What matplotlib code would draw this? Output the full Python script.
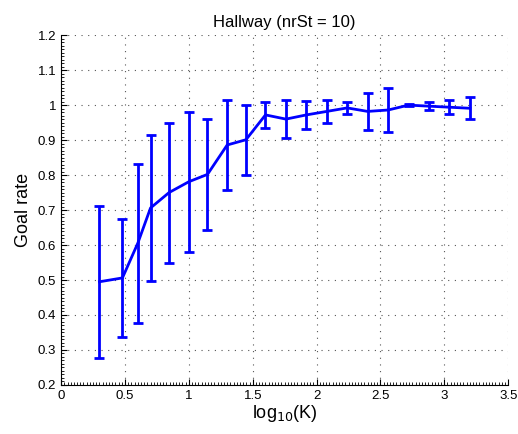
import numpy as np
import matplotlib
matplotlib.use('Agg')
import matplotlib.pyplot as plt
from matplotlib.ticker import AutoMinorLocator

plt.rcParams['font.family'] = ['Liberation Sans', 'DejaVu Sans']

# data
log_k = [0.30, 0.48, 0.60, 0.70, 0.845, 1.0, 1.146, 1.30, 1.447, 1.60,
         1.76, 1.92, 2.08, 2.24, 2.40, 2.56, 2.72, 2.88, 3.04, 3.20]
goal_rate = [0.495, 0.506, 0.605, 0.706, 0.750, 0.781, 0.802, 0.886, 0.901, 0.972,
             0.960, 0.972, 0.982, 0.992, 0.982, 0.986, 1.000, 0.997, 0.994, 0.991]
err = [0.217, 0.168, 0.228, 0.209, 0.200, 0.200, 0.158, 0.128, 0.100, 0.037,
       0.055, 0.041, 0.033, 0.016, 0.052, 0.062, 0.003, 0.012, 0.020, 0.032]

fig = plt.figure(figsize=(5.18, 4.34), dpi=100)
ax = fig.add_axes([0.118, 0.113, 0.863, 0.806])

ax.errorbar(log_k, goal_rate, yerr=err, color='#0000ff', linewidth=2,
            elinewidth=2, capsize=3.5, capthick=2)

ax.set_xlim(0, 3.5)
ax.set_ylim(0.2, 1.2)
ax.set_xticks(np.arange(0, 3.51, 0.5))
ax.set_yticks(np.arange(0.2, 1.21, 0.1))
ax.set_xticklabels(['0', '0.5', '1', '1.5', '2', '2.5', '3', '3.5'])
ax.set_yticklabels(['0.2', '0.3', '0.4', '0.5', '0.6', '0.7', '0.8', '0.9', '1', '1.1', '1.2'])
ax.xaxis.set_minor_locator(AutoMinorLocator(20))
ax.yaxis.set_minor_locator(AutoMinorLocator(10))
ax.tick_params(which='both', direction='in', labelsize=9.5)
ax.tick_params(which='major', length=4)
ax.tick_params(which='minor', length=2, width=0.6)

for s in ['top', 'right']:
    ax.spines[s].set_visible(False)

ax.grid(True, linestyle=(0, (1, 5)), color='#555555', linewidth=0.8)
ax.set_axisbelow(True)

ax.set_xlabel('log$_{10}$(K)', fontsize=13, labelpad=1)
ax.set_ylabel('Goal rate', fontsize=13)
ax.set_title('Hallway (nrSt = 10)', fontsize=12)

fig.savefig('out.png', dpi=100)
